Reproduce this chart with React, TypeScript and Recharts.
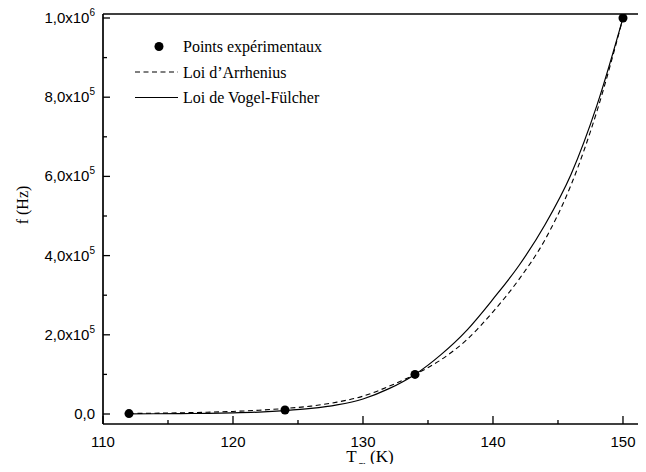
import React from "react";
import {
  ComposedChart,
  Line,
  Scatter,
  XAxis,
  YAxis,
  Legend,
  ReferenceLine,
} from "recharts";

// Temperatures (K) for the fitted curves
const T_CURVE = [112, 114, 116, 118, 120, 122, 124, 126, 128, 130, 132, 134, 136, 138, 140, 142, 144, 146, 148, 150];
// Arrhenius law (dashed)
const ARRHENIUS = [1300, 2000, 3000, 4500, 6500, 9500, 14000, 20000, 30000, 45000, 70000, 100000, 137000, 188000, 258000, 340000, 440000, 578000, 765000, 1000000];
// Vogel-Fulcher law (solid)
const VOGEL = [300, 600, 1000, 1700, 2800, 4800, 8500, 14000, 23000, 38000, 64000, 100000, 150000, 212000, 290000, 375000, 478000, 605000, 780000, 1000000];
// Experimental points
const T_EXP = [112, 124, 134, 150];
const F_EXP = [1000, 10000, 100000, 1000000];

const X_TICKS = [110, 115, 120, 125, 130, 135, 140, 145, 150, 155];
const Y_TICKS = [0, 100000, 200000, 300000, 400000, 500000, 600000, 700000, 800000, 900000, 1000000];
const X_DOMAIN = [110, 156.54];
const Y_DOMAIN = [-25250, 1010100];

const LEGEND_LABELS = ["Points expérimentaux", "Loi d\u2019Arrhenius", "Loi de Vogel-Fülcher"];

const arrData = T_CURVE.map((t, i) => ({ T: t, f: ARRHENIUS[i] }));
const vfData = T_CURVE.map((t, i) => ({ T: t, f: VOGEL[i] }));
const expData = T_EXP.map((t, i) => ({ T: t, f: F_EXP[i] }));

const SANS = "'Liberation Sans', Arial, Helvetica, sans-serif";
const SERIF = "'Liberation Serif', 'Times New Roman', Times, serif";

const BottomTick = (props: any) => {
  const { x, y, payload } = props;
  const major = payload.value % 10 === 0;
  return (
    <g>
      <line x1={x} x2={x} y1={y} y2={y - (major ? 8 : 4)} stroke="#000" strokeWidth={1.3} />
      {major && (
        <text x={x} y={y + 23} textAnchor="middle" fontFamily={SANS} fontSize={15} fill="#000">
          {payload.value}
        </text>
      )}
    </g>
  );
};

const TopTick = (props: any) => {
  const { x, y, payload } = props;
  const major = payload.value % 10 === 0;
  return <line x1={x} x2={x} y1={y} y2={y + (major ? 8 : 4)} stroke="#000" strokeWidth={1.3} />;
};

const LeftTick = (props: any) => {
  const { x, y, payload } = props;
  const v = payload.value as number;
  const major = Math.round(v / 100000) % 2 === 0;
  let label: React.ReactNode = null;
  if (major) {
    if (v === 0) {
      label = "0,0";
    } else {
      const exp = v >= 1000000 ? 6 : 5;
      const mant = (v / Math.pow(10, exp)).toFixed(1).replace(".", ",");
      label = (
        <>
          {mant}x10
          <tspan dy={-7} fontSize={10}>{exp}</tspan>
        </>
      );
    }
  }
  return (
    <g>
      <line x1={x} x2={x + (major ? 7 : 4)} y1={y} y2={y} stroke="#000" strokeWidth={1.3} />
      {major && (
        <text x={x - 8} y={y + 5} textAnchor="end" fontFamily={SANS} fontSize={15} fill="#000">
          {label}
        </text>
      )}
    </g>
  );
};

const LegendContent = () => (
  <svg width={260} height={85} style={{ display: "block" }}>
    <circle cx={31} cy={18.5} r={4.5} fill="#000" />
    <text x={55} y={24} fontFamily={SERIF} fontSize={16} fill="#000">{LEGEND_LABELS[0]}</text>
    <line x1={7} x2={50} y1={44} y2={44} stroke="#000" strokeWidth={1.1} strokeDasharray="5 3.5" />
    <text x={55} y={49.5} fontFamily={SERIF} fontSize={16} fill="#000">{LEGEND_LABELS[1]}</text>
    <line x1={7} x2={50} y1={69.5} y2={69.5} stroke="#000" strokeWidth={1.1} />
    <text x={55} y={75} fontFamily={SERIF} fontSize={16} fill="#000">{LEGEND_LABELS[2]}</text>
  </svg>
);

const YLabel = (props: any) => {
  const vb = props.viewBox || { x: 0, y: 6, width: 95, height: 410 };
  const cx = vb.x + 14;
  const cy = vb.y + vb.height / 2 - 14;
  return (
    <text
      x={cx}
      y={cy}
      transform={`rotate(-90 ${cx} ${cy})`}
      textAnchor="middle"
      dominantBaseline="central"
      fontFamily={SERIF}
      fontSize={16}
      fill="#000"
    >
      f (Hz)
    </text>
  );
};

const XLabel = (props: any) => {
  const vb = props.viewBox || { x: 95, y: 416 };
  const cx = vb.x + 267;
  const by = vb.y + 38;
  return (
    <text x={cx} y={by} textAnchor="middle" fontFamily={SERIF} fontSize={17} fill="#000">
      T
      <tspan dx={2} dy={5} fontSize={9}>m</tspan>
      <tspan dy={-5}> (K)</tspan>
    </text>
  );
};

export default function App() {
  return (
    <div style={{ width: 638, height: 464, overflow: "hidden", marginBottom: -8 }}>
      <ComposedChart
        width={700}
        height={464}
        margin={{ top: 6, right: 0, bottom: 0, left: 0 }}
      >
        <XAxis
          dataKey="T"
          type="number"
          domain={X_DOMAIN}
          allowDataOverflow
          ticks={X_TICKS}
          interval={0}
          tickSize={0}
          tickMargin={0}
          tickLine={false}
          tick={<BottomTick />}
          axisLine={false}
          height={48}
          label={<XLabel />}
        />
        <XAxis
          xAxisId="top"
          orientation="top"
          type="number"
          domain={X_DOMAIN}
          allowDataOverflow
          ticks={X_TICKS}
          interval={0}
          tickSize={0}
          tickMargin={0}
          tickLine={false}
          tick={<TopTick />}
          axisLine={false}
          height={0}
        />
        <YAxis
          dataKey="f"
          type="number"
          domain={Y_DOMAIN}
          allowDataOverflow
          ticks={Y_TICKS}
          interval={0}
          tickSize={0}
          tickMargin={0}
          tickLine={false}
          tick={<LeftTick />}
          axisLine={false}
          width={95}
          label={<YLabel />}
        />
        <ReferenceLine y={Y_DOMAIN[0]} stroke="#000" strokeWidth={1.7} ifOverflow="visible" />
        <ReferenceLine y={Y_DOMAIN[1]} stroke="#000" strokeWidth={1.7} ifOverflow="visible" />
        <ReferenceLine x={X_DOMAIN[0]} stroke="#000" strokeWidth={1.7} ifOverflow="visible" />
        <Legend
          layout="vertical"
          align="center"
          verticalAlign="middle"
          content={<LegendContent />}
          wrapperStyle={{ position: "absolute", left: 120, top: 20, width: 260, height: 85 }}
        />
        <Line
          data={arrData}
          dataKey="f"
          type="monotone"
          stroke="#000"
          strokeWidth={1.1}
          strokeDasharray="5 3.5"
          dot={false}
          activeDot={false}
          isAnimationActive={false}
          legendType="none"
        />
        <Line
          data={vfData}
          dataKey="f"
          type="monotone"
          stroke="#000"
          strokeWidth={1.2}
          dot={false}
          activeDot={false}
          isAnimationActive={false}
          legendType="none"
        />
        <Scatter
          data={expData}
          dataKey="f"
          fill="#000"
          isAnimationActive={false}
          shape={(p: any) => <circle cx={p.cx} cy={p.cy} r={4.5} fill="#000" />}
        />
      </ComposedChart>
    </div>
  );
}
